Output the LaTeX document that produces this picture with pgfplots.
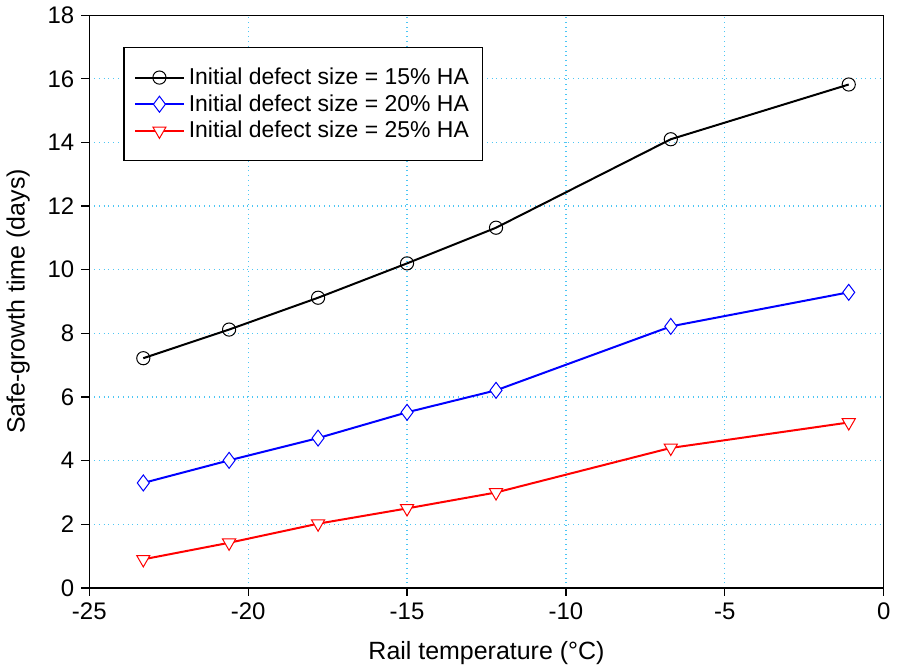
\documentclass[border=0pt]{standalone}
\usepackage{pgfplots}
\pgfplotsset{compat=1.18}
\usepackage{fontspec}
\setmainfont{Liberation Sans}
\begin{document}
\begin{tikzpicture}
\begin{axis}[
    width=398pt, height=287pt,
    scale only axis,
    xmin=-25, xmax=0,
    ymin=0, ymax=18,
    xtick={-25,-20,...,0},
    ytick={0,2,...,18},
    tick align=outside,
    tick pos=left,
    major tick length=4pt,
    grid=major,
    grid style={cyan!70, dotted, line width=0.6pt},
    axis line style={line width=0.6pt},
    tick style={black, line width=0.6pt},
    ticklabel style={font=\fontsize{12}{14}\selectfont},
    /pgf/number format/assume math mode=true,
    xlabel={Rail temperature (°C)},
    ylabel={Safe-growth time (days)},
    label style={font=\fontsize{12.5}{14}\selectfont},
    xlabel style={yshift=-4pt},
    ylabel style={yshift=2pt},
    legend style={at={(0.043,0.944)}, anchor=north west, draw=black, line width=0.6pt,
                  font=\fontsize{11.5}{13.5}\selectfont, row sep=-0.5pt, inner xsep=5pt, inner ysep=8pt},
    legend cell align=left,
    legend image code/.code={\draw[mark repeat=2, mark phase=2] plot coordinates {(0cm,0cm) (0.43cm,0cm) (0.86cm,0cm)};},
]
% 15% HA
\addplot[black, line width=1pt, mark=o, mark size=3.3pt, mark options={fill=white, line width=0.5pt}]
    coordinates {(-23.3,7.22) (-20.6,8.12) (-17.8,9.12) (-15,10.2) (-12.2,11.32) (-6.7,14.1) (-1.1,15.82)};
\addlegendentry{Initial defect size = 15\% HA}
% 20% HA
\addplot[blue, line width=1pt, mark=diamond*, mark size=4pt, mark options={fill=white, line width=0.5pt}]
    coordinates {(-23.3,3.3) (-20.6,4.01) (-17.8,4.71) (-15,5.52) (-12.2,6.21) (-6.7,8.22) (-1.1,9.29)};
\addlegendentry{Initial defect size = 20\% HA}
% 25% HA
\addplot[red, line width=1pt, mark=triangle*, mark size=3.8pt, mark options={fill=white, rotate=180, line width=0.5pt}]
    coordinates {(-23.3,0.9) (-20.6,1.42) (-17.8,2.02) (-15,2.5) (-12.2,3.0) (-6.7,4.4) (-1.1,5.2)};
\addlegendentry{Initial defect size = 25\% HA}
\end{axis}
\end{tikzpicture}
\end{document}
